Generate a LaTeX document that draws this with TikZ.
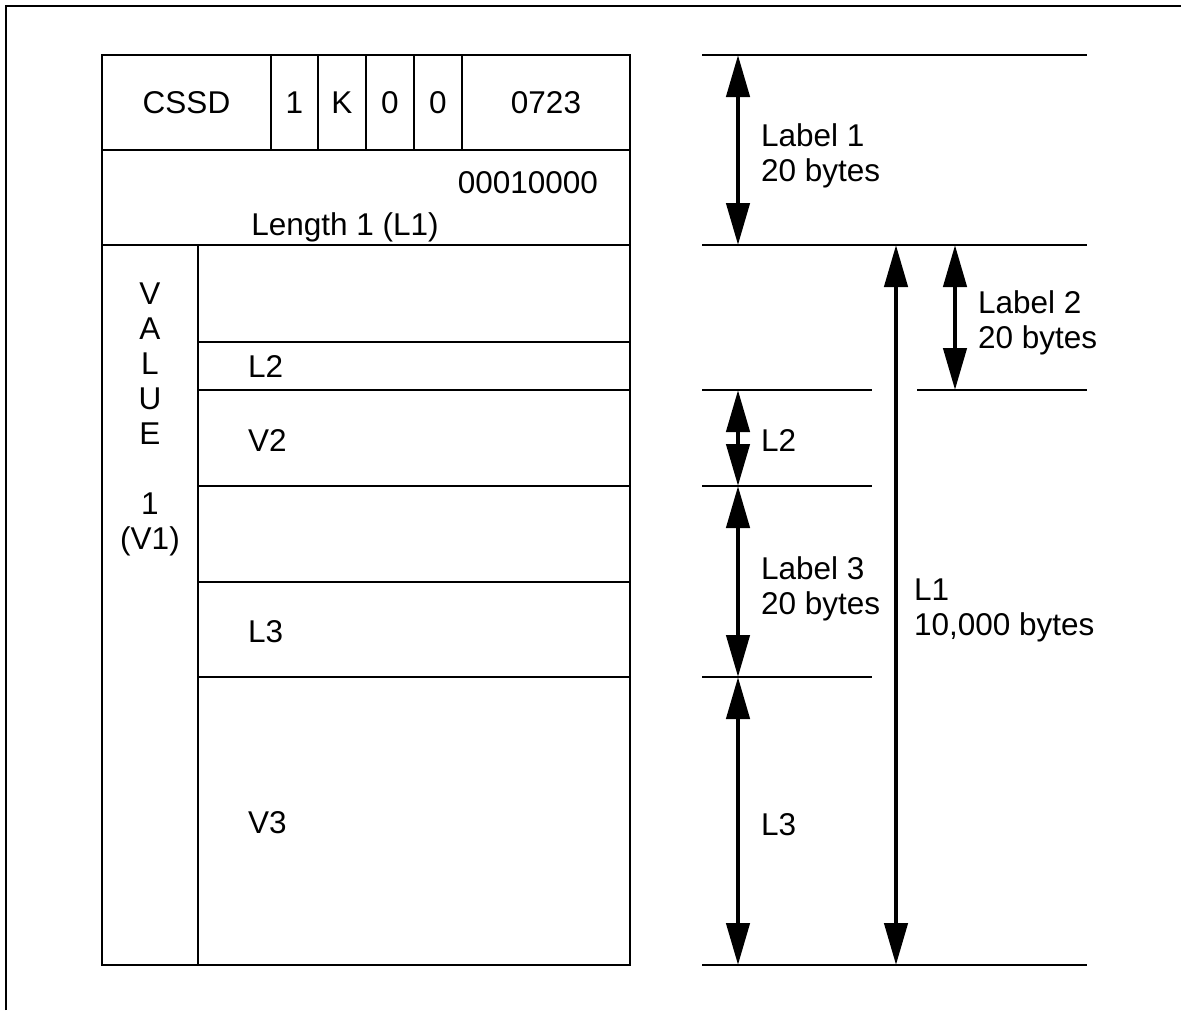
\documentclass[tikz,border=0pt]{standalone}
\usepackage{fontspec}
\setmainfont{Liberation Sans}
\usepackage{tikz}
\usetikzlibrary{arrows.meta, positioning}
\tikzset{
  cell/.style={draw, line width=2pt, inner sep=0pt, outer sep=0pt, minimum height=95pt},
  txt/.style={inner sep=0pt, outer sep=0pt, font=\fontsize{31.5}{35}\selectfont},
  extline/.style={line width=2pt},
  dimarrow/.style={{Triangle[length=42pt, width=23pt]}-{Triangle[length=42pt, width=23pt]}, line width=4.5pt},
}

\begin{document}
\begin{tikzpicture}[x=1pt, y=-1pt]
    \useasboundingbox (0,0) rectangle (1181,1010);
    \draw[line width=2pt] (6,1010) -- (6,6) -- (1181,6);

    % label record
    \node[cell, txt, minimum width=169pt, anchor=north west] (cssd) at (102,55) {CSSD};
    \node[cell, txt, minimum width=47pt, right=0pt of cssd] (ver) {1};
    \node[cell, txt, minimum width=48pt, right=0pt of ver] (typ) {K};
    \node[cell, txt, minimum width=48pt, right=0pt of typ] (fa) {0};
    \node[cell, txt, minimum width=48pt, right=0pt of fa] (fb) {0};
    \node[cell, txt, minimum width=168pt, right=0pt of fb] (ident) {0723};

    \node[cell, minimum width=528pt, anchor=north west] (len) at (cssd.south west) {};
    \node[txt, anchor=base east] (lenval) at (598,193) {00010000};
    \node[txt, anchor=base] (lenname) at (345,235) {Length 1 (L1)};

    \node[cell, minimum width=96pt, minimum height=720pt, anchor=north west] (val) at (len.south west) {};
    \node[txt, align=center, anchor=north] (valname) at (150,283) {V\\A\\L\\U\\E\\[35pt]1\\(V1)};

    \node[cell, minimum width=432pt, minimum height=97pt, anchor=north west] (r1) at (val.north east) {};
    \node[cell, minimum width=432pt, minimum height=48pt, below=0pt of r1] (r2) {};
    \node[cell, minimum width=432pt, minimum height=96pt, below=0pt of r2] (r3) {};
    \node[cell, minimum width=432pt, minimum height=96pt, below=0pt of r3] (r4) {};
    \node[cell, minimum width=432pt, minimum height=95pt, below=0pt of r4] (r5) {};
    \node[cell, minimum width=432pt, minimum height=288pt, below=0pt of r5] (r6) {};

    \node[txt, anchor=west] (tl2) at ([xshift=50pt]r2.west) {L2};
    \node[txt, anchor=west] (tv2) at ([xshift=50pt, yshift=-2pt]r3.west) {V2};
    \node[txt, anchor=west] (tl3) at ([xshift=50pt, yshift=-2pt]r5.west) {L3};
    \node[txt, anchor=west] (tv3) at ([xshift=50pt, yshift=-2pt]r6.west) {V3};

    % extension lines
    \draw[extline] (702,55) -- (1087,55);
    \draw[extline] (702,245) -- (1087,245);
    \draw[extline] (702,390) -- (872,390);
    \draw[extline] (917,390) -- (1087,390);
    \draw[extline] (702,486) -- (872,486);
    \draw[extline] (702,677) -- (872,677);
    \draw[extline] (702,965) -- (1087,965);

    \coordinate (a0) at (738,55);
    \coordinate (a1) at (738,245);
    \coordinate (a2) at (738,390);
    \coordinate (a3) at (738,486);
    \coordinate (a4) at (738,677);
    \coordinate (a5) at (738,965);
    \coordinate (b0) at (896,245);
    \coordinate (b1) at (896,965);
    \coordinate (c0) at (955,245);
    \coordinate (c1) at (955,390);

    \draw[dimarrow] (a0) -- (a1);
    \draw[dimarrow] (a2) -- (a3);
    \draw[dimarrow] (a3) -- (a4);
    \draw[dimarrow] (a4) -- (a5);
    \draw[dimarrow] (b0) -- (b1);
    \draw[dimarrow] (c0) -- (c1);

    \node[txt, align=left, anchor=north west] (lab1) at (761,124) {Label 1\\20 bytes};
    \node[txt, align=left, anchor=north west] (lab2) at (978,291) {Label 2\\20 bytes};
    \node[txt, anchor=west] (dl2) at (761,440) {L2};
    \node[txt, align=left, anchor=north west] (lab3) at (761,557) {Label 3\\20 bytes};
    \node[txt, align=left, anchor=north west] (dl1) at (914,579) {L1\\10,000 bytes};
    \node[txt, anchor=west] (dl3) at (761,825) {L3};
  \end{tikzpicture}
\end{document}
